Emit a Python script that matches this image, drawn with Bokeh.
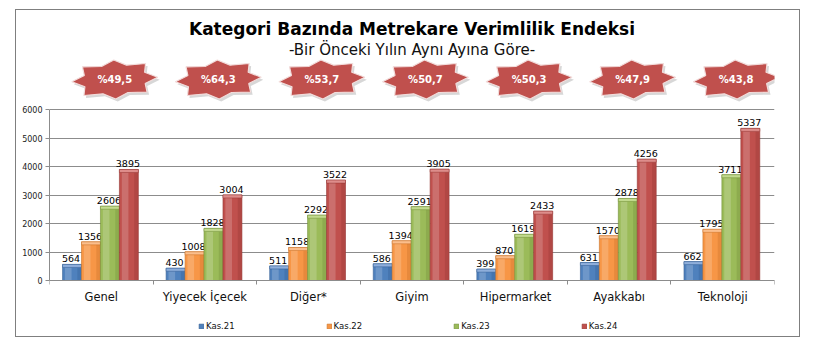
import math
from bokeh.plotting import figure
from bokeh.models import ColumnDataSource, FixedTicker, Legend, LegendItem, Title, Range1d
from bokeh.transform import dodge
from bokeh.core.properties import value
from bokeh.embed import file_html
from bokeh.resources import INLINE

# ---------------- data ----------------
categories = ["Genel", "Yiyecek İçecek", "Diğer*", "Giyim", "Hipermarket", "Ayakkabı", "Teknoloji"]
series_names = ["Kas.21", "Kas.22", "Kas.23", "Kas.24"]
kas21 = [564, 430, 511, 586, 399, 631, 662]
kas22 = [1356, 1008, 1158, 1394, 870, 1570, 1795]
kas23 = [2606, 1828, 2292, 2591, 1619, 2878, 3711]
kas24 = [3895, 3004, 3522, 3905, 2433, 4256, 5337]
growth = ["%49,5", "%64,3", "%53,7", "%50,7", "%50,3", "%47,9", "%43,8"]
y_ticks = [0, 1000, 2000, 3000, 4000, 5000, 6000]

# ---------------- layout / style ----------------
W, H = 785, 328
B_LEFT, B_RIGHT, B_TOP, B_BOTTOM = 33, 27, 48, 2
frame_w = W - B_LEFT - B_RIGHT
frame_h = H - B_TOP - B_BOTTOM
ZERO_PX = 270 - B_TOP                 # pixel row of the zero line below the frame top
px_6000 = 171.0                       # pixels from baseline to the 6000 line
uy = 6000 / px_6000                   # data units per pixel (y)
y_end = 6000 + (ZERO_PX - px_6000) * uy
y_start = -(frame_h - ZERO_PX) * uy
ux = len(categories) / frame_w        # data units per pixel (x)

base = ["#4F81BD", "#F79646", "#9BBB59", "#C0504D"]
light = ["#8EAEDB", "#FBBE8C", "#C2DA8E", "#DE8D8B"]
dark = ["#355F94", "#C8732A", "#728F38", "#943634"]
series = [kas21, kas22, kas23, kas24]

p = figure(width=W, height=H, output_backend="svg", toolbar_location=None,
           x_range=Range1d(0, len(categories)), y_range=Range1d(y_start, y_end),
           min_border_left=B_LEFT, min_border_right=B_RIGHT,
           min_border_top=B_TOP, min_border_bottom=B_BOTTOM,
           outline_line_color=None, background_fill_color="white",
           border_fill_color="white")
p.styles = {"margin-left": "15px", "margin-top": "9px", "border": "1px solid #7f7f7f"}

p.add_layout(Title(text="-Bir Önceki Yılın Aynı Ayına Göre-", align="center",
                   text_font="DejaVu Sans", text_font_size="15px",
                   text_font_style="normal", text_color="#111111", standoff=0), "above")
p.add_layout(Title(text="Kategori Bazında Metrekare Verimlilik Endeksi", align="center",
                   text_font="DejaVu Sans", text_font_size="17px",
                   text_font_style="bold", text_color="#000000", standoff=0), "above")

# axes
p.yaxis.ticker = FixedTicker(ticks=y_ticks)
p.yaxis.bounds = (0, 6000)
p.yaxis.major_label_text_font = "DejaVu Sans"
p.yaxis.major_label_text_font_size = "8px"
p.yaxis.major_label_text_color = "#222222"
p.yaxis.axis_line_color = "#8c8c8c"
p.yaxis.major_tick_line_color = "#8c8c8c"
p.yaxis.major_tick_out = 4
p.yaxis.major_tick_in = 0
p.yaxis.minor_tick_line_color = None
p.yaxis.major_label_standoff = 3

centers = [i + 0.5 for i in range(len(categories))]
p.xaxis.fixed_location = 0
p.xaxis.ticker = FixedTicker(ticks=centers, minor_ticks=list(range(len(categories) + 1)))
p.xaxis.major_label_overrides = {c: name for c, name in zip(centers, categories)}
p.xaxis.major_label_text_font = "DejaVu Sans"
p.xaxis.major_label_text_font_size = "11.5px"
p.xaxis.major_label_text_color = "#111111"
p.xaxis.axis_line_color = "#8c8c8c"
p.xaxis.major_tick_out = 0
p.xaxis.major_tick_in = 0
p.xaxis.minor_tick_out = 4
p.xaxis.minor_tick_in = 0
p.xaxis.minor_tick_line_color = "#8c8c8c"
p.xaxis.major_label_standoff = 5

p.xgrid.grid_line_color = None
p.ygrid.grid_line_color = "#8c8c8c"
p.ygrid.grid_line_width = 1

# bars
BW = 0.183
offsets = [(-1.5 + k) * BW - 0.008 for k in range(4)]
cap_h = 3 * uy
main_renderers = []
for k, vals in enumerate(series):
    src = ColumnDataSource(dict(x=centers, top=vals,
                                cap=[v - cap_h for v in vals],
                                label=[str(v) for v in vals]))
    r = p.vbar(x=dodge("x", offsets[k]), top="top", bottom=0, width=BW, source=src,
               fill_color=base[k], line_color=dark[k], line_width=0.6)
    main_renderers.append(r)
    # soft sheen for the 3D look
    p.vbar(x=dodge("x", offsets[k] - 0.2 * BW), top="cap", bottom=0, width=0.35 * BW,
           source=src, fill_color="white", fill_alpha=0.18, line_color=None)
    p.vbar(x=dodge("x", offsets[k] + 0.38 * BW), top="cap", bottom=0, width=0.2 * BW,
           source=src, fill_color=dark[k], fill_alpha=0.35, line_color=None)
    p.vbar(x=dodge("x", offsets[k]), top="top", bottom="cap", width=BW, source=src,
           fill_color=light[k], line_color=dark[k], line_width=0.5)
    p.text(x=dodge("x", offsets[k]), y="top", text="label", source=src,
           text_font=value("DejaVu Sans"), text_font_size="9.5px", text_color="#000000",
           text_align="center", text_baseline="bottom", y_offset=-2, x_offset=-1)

# growth stars
star_y = 6000 + 30 * uy
star_dx = 0.13
def star(cx, cy, rx, ry, ratio=0.76, n=8, rot=3.0):
    xs, ys = [], []
    t = math.radians(rot)
    for j in range(2 * n):
        a = math.pi * j / n
        f = 1.0 if j % 2 == 0 else ratio
        if j % 2 == 0 and (j // 2) % 2 == 1:
            f = 1.04
        px = f * rx * math.cos(a)
        py = f * ry * math.sin(a)
        qx = px * math.cos(t) - py * math.sin(t)
        qy = px * math.sin(t) + py * math.cos(t)
        xs.append(cx + qx * ux)
        ys.append(cy + qy * uy)
    return xs, ys

sx, sy, shx, shy = [], [], [], []
for c in centers:
    xs, ys = star(c + star_dx, star_y, 43, 19.5)
    sx.append(xs); sy.append(ys)
    xs2, ys2 = star(c + star_dx + 2 * ux, star_y - 2.5 * uy, 43, 19.5)
    shx.append(xs2); shy.append(ys2)
p.patches(shx, shy, fill_color="#9a9a9a", fill_alpha=0.4, line_color=None)
p.patches(sx, sy, fill_color="#C0504D", line_color="#f2dcdb", line_width=1.2)
star_src = ColumnDataSource(dict(x=[c + star_dx for c in centers], y=[star_y] * len(centers), t=growth))
p.text(x="x", y="y", text="t", source=star_src, text_font=value("DejaVu Sans"),
       text_font_size="10px", text_font_style="bold", text_color="white",
       text_align="center", text_baseline="middle")

legend = Legend(items=[LegendItem(label=n, renderers=[r]) for n, r in zip(series_names, main_renderers)],
                orientation="horizontal", location=(149, 5), spacing=91,
                glyph_width=6, glyph_height=6, label_height=10, label_standoff=2,
                label_text_font="DejaVu Sans", label_text_font_size="8.5px",
                label_text_color="#111111", padding=0, margin=0,
                border_line_color=None, background_fill_alpha=0)
p.add_layout(legend, "center")

open("out.html", "w").write(file_html(p, INLINE))
